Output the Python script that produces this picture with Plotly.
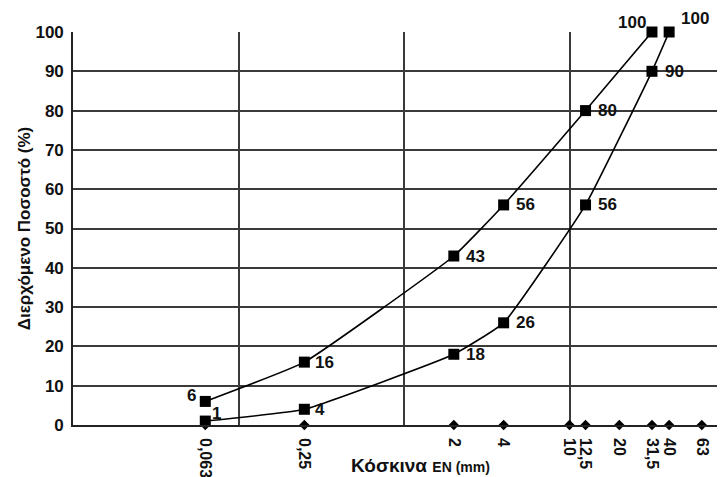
import math
import plotly.graph_objects as go

sieves = [0.063, 0.25, 2, 4, 10, 12.5, 20, 31.5, 40, 63]
sieve_labels = ["0,063", "0,25", "2", "4", "10", "12,5", "20", "31,5", "40", "63"]

upper_x = [0.063, 0.25, 2, 4, 12.5, 31.5]
upper_y = [6, 16, 43, 56, 80, 100]

lower_x = [0.063, 0.25, 2, 4, 12.5, 31.5, 40]
lower_y = [1, 4, 18, 26, 56, 90, 100]

grid_x = [0.1, 1, 10]
y_ticks = list(range(0, 101, 10))

# label placement styles (anchor, x shift px, y shift px)
upper_label_style = [("right", -7, 6), ("left", 9, 0), ("left", 10, 0), ("left", 10, 0),
                     ("left", 10, 0), ("right", -4, 10)]
lower_label_style = [("left", 5, 8), ("left", 9, 0), ("left", 10, 0), ("left", 10, 0),
                     ("left", 10, 0), ("left", 11, 0), ("left", 10, 14)]

FONT = "Liberation Sans, Arial, sans-serif"
INK = "#111"
PAGE_OFF = 8  # default body margin of the page
W, H = 725 - PAGE_OFF, 477 - PAGE_OFF
L, R, T, B = 73 - PAGE_OFF, 0, 32 - PAGE_OFF, 52
px_per_decade = 165.5
x_lo = -2
x_hi = x_lo + (W - L - R) / px_per_decade

fig = go.Figure()

for xs, ys in [(upper_x, upper_y), (lower_x, lower_y)]:
    fig.add_trace(go.Scatter(
        x=xs, y=ys, mode="lines+markers",
        line=dict(color="black", width=1.6, shape="spline", smoothing=0.35),
        marker=dict(symbol="square", size=11, color="black"),
        cliponaxis=False, showlegend=False, hoverinfo="skip",
    ))

fig.add_trace(go.Scatter(
    x=sieves, y=[0] * len(sieves), mode="markers",
    marker=dict(symbol="diamond", size=8, color="black"),
    cliponaxis=False, showlegend=False, hoverinfo="skip",
))

# helper trace carrying the vertical grid (decades)
fig.add_trace(go.Scatter(x=grid_x, y=[None] * len(grid_x), xaxis="x2", mode="markers",
                         showlegend=False, hoverinfo="skip"))

for xs, ys, styles in [(upper_x, upper_y, upper_label_style), (lower_x, lower_y, lower_label_style)]:
    for xv, yv, (anc, dx, dy) in zip(xs, ys, styles):
        fig.add_annotation(
            x=math.log10(xv), y=yv, xref="x", yref="y", text=str(yv), showarrow=False,
            xanchor=anc, yanchor="middle", xshift=dx, yshift=dy,
            font=dict(family=FONT, size=17, color=INK, weight="bold"),
        )

fig.update_layout(
    width=W, height=H,
    margin=dict(l=L, r=R, t=T, b=B, autoexpand=False),
    paper_bgcolor="white", plot_bgcolor="white",
    font=dict(family=FONT, color=INK),
    xaxis=dict(
        type="log", range=[x_lo, x_hi], automargin=False,
        tickvals=sieves, ticktext=sieve_labels, tickangle=90,
        tickfont=dict(family=FONT, size=16, color=INK, weight="bold"),
        showgrid=False, zeroline=False, showline=True, linecolor="#222", linewidth=1.6,
        ticks="", ticklabelstandoff=8,
    ),
    xaxis2=dict(
        type="log", range=[x_lo, x_hi], overlaying="x", automargin=False,
        tickvals=grid_x, showticklabels=False, ticks="",
        showgrid=True, gridcolor="#3a3a3a", gridwidth=1.5, zeroline=False, showline=False,
    ),
    yaxis=dict(
        range=[0, 100], tickvals=y_ticks, automargin=False,
        tickfont=dict(family=FONT, size=17, color=INK, weight="bold"),
        showgrid=True, gridcolor="#3a3a3a", gridwidth=1.5,
        zeroline=False, showline=True, linecolor="#222", linewidth=1.6,
        ticks="", ticklabelstandoff=4,
        title=dict(text="Διερχόμενο Ποσοστό (%)", standoff=0,
                   font=dict(family=FONT, size=17, color=INK, weight="bold")),
    ),
)

fig.add_annotation(
    text="Κόσκινα <span style='font-size:14px'>EN (mm)</span>",
    xref="paper", yref="paper", x=(420 - 73) / (W - L - R),
    y=-(465 - (477 - B)) / (H - T - B),
    showarrow=False, xanchor="center", yanchor="middle",
    font=dict(family=FONT, size=19, color=INK, weight="bold"),
)

fig.write_html("out.html")
